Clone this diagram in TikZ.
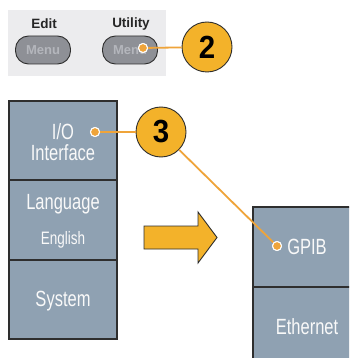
\documentclass[tikz,border=0pt]{standalone}
\usepackage{fontspec}
\setmainfont{Liberation Sans}
\newfontfamily\lcdfont[FakeStretch=0.75]{Liberation Sans}
\newfontfamily\numfont[FakeStretch=0.92]{Liberation Sans}
\definecolor{panelgray}{HTML}{8FA1B2}
\definecolor{bggray}{HTML}{ECECEE}
\definecolor{btngray}{HTML}{8E9096}
\definecolor{btntext}{HTML}{B4B6BC}
\definecolor{callout}{HTML}{F3B22A}
\definecolor{leader}{HTML}{EFA43A}
\definecolor{edge}{HTML}{2E2E2E}
\tikzset{
  panel/.style={fill=panelgray,draw=edge,line width=1.1pt},
  lcd/.style={text=white!95!gray,font=\lcdfont\fontsize{22}{22}\selectfont,inner sep=0pt},
  lcdsmall/.style={text=white!95!gray,font=\lcdfont\fontsize{18}{18}\selectfont,inner sep=0pt},
  btn/.style={draw=edge,line width=0.9pt,fill=btngray,rounded corners=13pt,minimum width=55pt,minimum height=28pt,inner sep=0pt,text=btntext,font=\bfseries\fontsize{13}{13}\selectfont},
  btnlabel/.style={font=\bfseries\fontsize{13.5}{13.5}\selectfont,inner sep=0pt,text=black!85},
  numcircle/.style={circle,draw=edge,line width=0.9pt,fill=callout,minimum size=50pt,inner sep=0pt,font=\numfont\bfseries\fontsize{32}{32}\selectfont},
  leaderline/.style={draw=leader,line width=1.8pt},
  dot/.style={circle,fill=leader,draw=white,line width=1pt,minimum size=9pt,inner sep=0pt}
}
\begin{document}
\begin{tikzpicture}[x=1pt,y=-1pt]
\useasboundingbox (0,0) rectangle (349,358);
\clip (0,0) rectangle (349,358);
\fill[white] (0,0) rectangle (349,358);
% top panel
\fill[bggray] (8,10) rectangle (166,76);
\node[btnlabel] (editlbl) at (44,24) {Edit};
\node[btnlabel] (utillbl) at (131,24) {Utility};
\node[btn] (menu1) at (43,50) {Menu};
\node[btn] (menu2) at (130,50) {Menu};
\node[numcircle] (c2) at (207,47) {2};
\node[dot] (d2) at (143,48) {};
\draw[leaderline] (d2) -- (c2);
\node[dot] at (143,48) {};
% left menu panel
\draw[panel] (9,101) rectangle (117,339);
\draw[edge,line width=1.1pt] (9,180) -- (117,180);
\draw[edge,line width=1.1pt] (9,260) -- (117,260);
\node[lcd] (io) at (63,132) {I/O};
\node[lcd] (iface) at (63,153) {Interface};
\node[lcd] (lang) at (63,204) {Language};
\node[lcdsmall] (eng) at (63,240) {English};
\node[lcd] (sys) at (63,301) {System};
% right panel
\draw[panel] (253,207) rectangle (360,370);
\draw[edge,line width=1.1pt] (253,287) -- (360,287);
\node[lcd] (gpib) at (307,247) {GPIB};
\node[lcd] (eth) at (307,327) {Ethernet};
% callout 3
\node[numcircle] (c3) at (161,132) {3};
\node[dot] (d3a) at (95,132) {};
\node[dot] (d3b) at (277,246) {};
\draw[leaderline] (d3a) -- (c3);
\draw[leaderline] (c3) -- (d3b);
\node[dot] at (95,132) {};
\node[dot] at (277,246) {};
% big arrow
\draw[fill=callout,draw=edge,line width=0.9pt,line join=miter]
  (144,226) -- (198,226) -- (198,212) -- (217,237.5) -- (198,263) -- (198,249) -- (144,249) -- cycle;
\end{tikzpicture}
\end{document}
